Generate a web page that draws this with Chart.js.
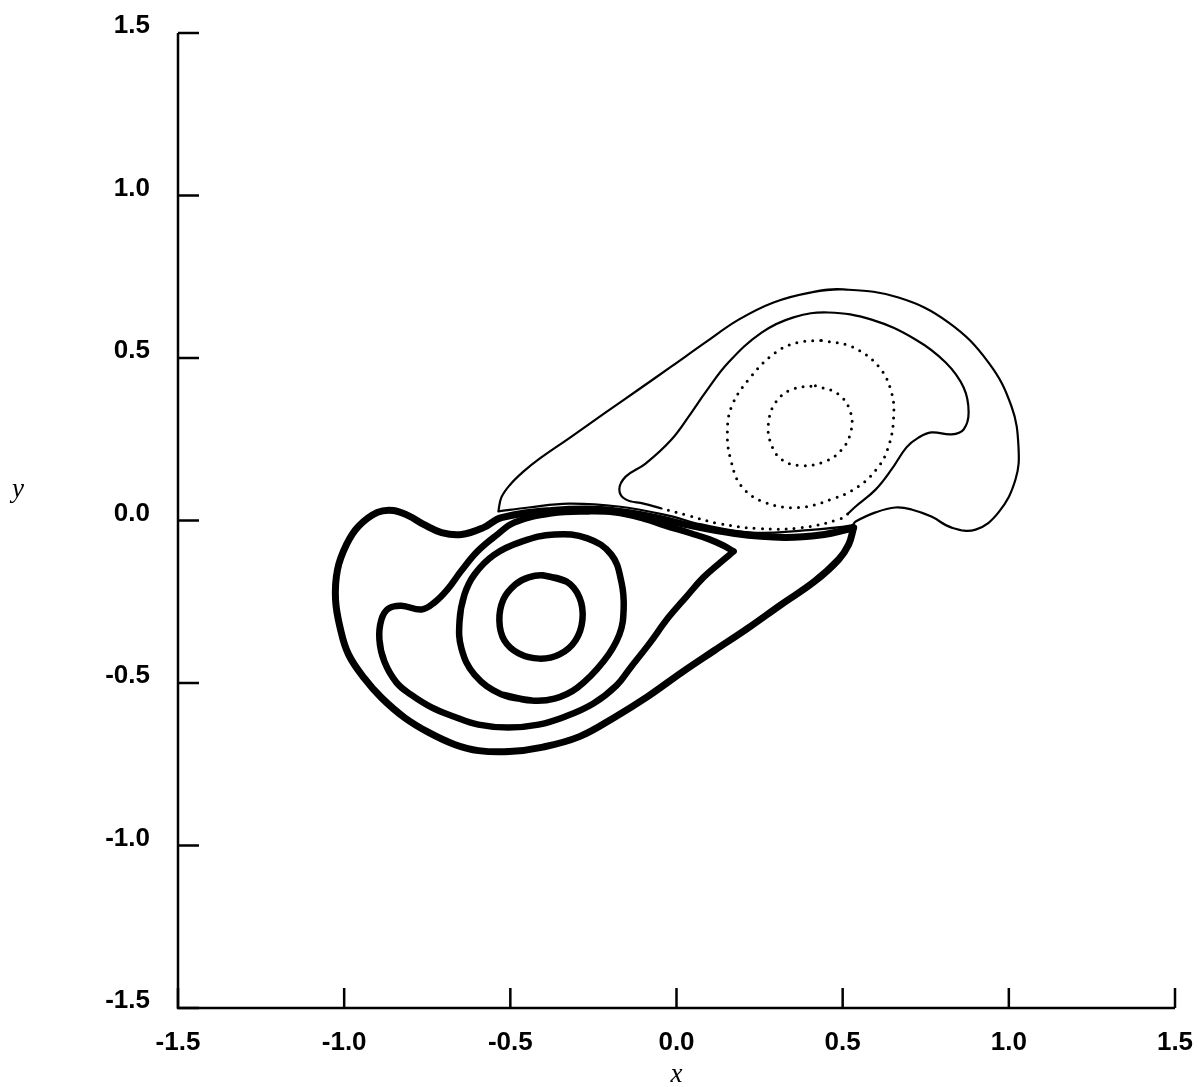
<!DOCTYPE html>
<html><head><meta charset="utf-8">
<script src="https://cdn.jsdelivr.net/npm/chart.js@4.4.0/dist/chart.umd.min.js"></script>
<style>html,body{margin:0;padding:0;background:#fff;}#wrap{width:1199px;height:1087px;}</style>
</head><body><div id="wrap"><canvas id="c" width="1199" height="1087"></canvas></div>
<script>
// ---- axis ticks ----
const xTicks = [-1.5, -1.0, -0.5, 0.0, 0.5, 1.0, 1.5];
const xTickLabels = ['-1.5', '-1.0', '-0.5', '0.0', '0.5', '1.0', '1.5'];
const yTicks = [-1.5, -1.0, -0.5, 0.0, 0.5, 1.0, 1.5];
const yTickLabels = ['-1.5', '-1.0', '-0.5', '0.0', '0.5', '1.0', '1.5'];
const xTitle = 'x';
const yTitle = 'y';

// ---- right vortex (thin / dotted) ----
const rightOuter = [[-0.536,0.028],[-0.527,0.071],[-0.500,0.111],[-0.460,0.151],[-0.415,0.188],[-0.316,0.258],[-0.214,0.332],[-0.114,0.403],[-0.015,0.474],[0.087,0.548],[0.187,0.618],[0.292,0.671],[0.406,0.702],[0.503,0.711],[0.668,0.686],[0.819,0.609],[0.939,0.486],[1.008,0.351],[1.029,0.228],[1.020,0.126],[0.969,0.025],[0.900,-0.028],[0.828,-0.022],[0.767,0.012],[0.707,0.034],[0.659,0.040],[0.599,0.025],[0.539,-0.003],[0.527,-0.015],[0.376,-0.031],[0.226,-0.037],[0.075,-0.012],[-0.024,0.015],[-0.175,0.043],[-0.325,0.052],[-0.445,0.040],[-0.536,0.028]];
const rightInnerSolid = [[-0.045,0.037],[-0.099,0.052],[-0.153,0.065],[-0.172,0.095],[-0.153,0.135],[-0.093,0.175],[-0.015,0.249],[0.045,0.332],[0.087,0.394],[0.156,0.486],[0.256,0.578],[0.352,0.625],[0.457,0.640],[0.587,0.618],[0.719,0.557],[0.810,0.486],[0.864,0.409],[0.879,0.332],[0.864,0.280],[0.828,0.265],[0.767,0.271],[0.728,0.255],[0.692,0.225],[0.647,0.157],[0.599,0.095],[0.539,0.043],[0.515,0.020]];
const rightInnerDotted = [[0.515,0.020],[0.488,0.003],[0.376,-0.022],[0.247,-0.025],[0.126,-0.009],[0.036,0.015],[-0.045,0.037]];
const rightRingOuter = [[0.436,0.554],[0.527,0.535],[0.608,0.474],[0.647,0.394],[0.653,0.311],[0.638,0.228],[0.608,0.166],[0.548,0.105],[0.466,0.065],[0.367,0.040],[0.268,0.055],[0.196,0.105],[0.163,0.188],[0.153,0.271],[0.166,0.351],[0.217,0.434],[0.298,0.517],[0.367,0.548],[0.436,0.554]];
const rightRingInner = [[0.418,0.415],[0.488,0.388],[0.524,0.332],[0.524,0.271],[0.497,0.218],[0.448,0.182],[0.376,0.169],[0.316,0.188],[0.283,0.240],[0.277,0.302],[0.298,0.363],[0.346,0.403],[0.418,0.415]];

// ---- left vortex (thick) ----
const leftOuter = [[0.533,-0.022],[0.518,-0.074],[0.488,-0.120],[0.415,-0.188],[0.316,-0.258],[0.214,-0.332],[0.114,-0.400],[0.015,-0.468],[-0.087,-0.542],[-0.187,-0.606],[-0.292,-0.665],[-0.406,-0.698],[-0.503,-0.711],[-0.596,-0.708],[-0.668,-0.689],[-0.746,-0.652],[-0.819,-0.606],[-0.888,-0.545],[-0.939,-0.486],[-0.987,-0.412],[-1.011,-0.335],[-1.026,-0.243],[-1.020,-0.151],[-0.993,-0.074],[-0.957,-0.018],[-0.900,0.025],[-0.852,0.031],[-0.807,0.015],[-0.761,-0.012],[-0.707,-0.037],[-0.647,-0.043],[-0.581,-0.022],[-0.527,0.009],[-0.376,0.031],[-0.226,0.034],[-0.075,0.012],[0.024,-0.012],[0.175,-0.040],[0.325,-0.052],[0.445,-0.043],[0.512,-0.028],[0.533,-0.022]];
const leftInner = [[0.172,-0.095],[0.132,-0.129],[0.081,-0.175],[0.030,-0.234],[-0.024,-0.298],[-0.084,-0.382],[-0.138,-0.452],[-0.181,-0.508],[-0.250,-0.563],[-0.334,-0.603],[-0.415,-0.628],[-0.506,-0.637],[-0.596,-0.628],[-0.671,-0.603],[-0.737,-0.575],[-0.800,-0.535],[-0.843,-0.498],[-0.879,-0.434],[-0.894,-0.366],[-0.888,-0.305],[-0.867,-0.271],[-0.828,-0.262],[-0.767,-0.274],[-0.728,-0.252],[-0.689,-0.212],[-0.647,-0.154],[-0.599,-0.095],[-0.539,-0.043],[-0.488,-0.006],[-0.376,0.022],[-0.265,0.028],[-0.187,0.025],[-0.099,0.006],[-0.036,-0.015],[0.045,-0.040],[0.099,-0.058],[0.141,-0.077],[0.172,-0.095]];
const leftRingOuter = [[-0.436,-0.554],[-0.527,-0.535],[-0.608,-0.474],[-0.647,-0.394],[-0.653,-0.311],[-0.638,-0.228],[-0.608,-0.166],[-0.548,-0.105],[-0.466,-0.065],[-0.367,-0.043],[-0.268,-0.055],[-0.196,-0.105],[-0.166,-0.188],[-0.159,-0.271],[-0.172,-0.351],[-0.220,-0.434],[-0.298,-0.514],[-0.367,-0.548],[-0.436,-0.554]];
const leftRingInner = [[-0.400,-0.169],[-0.331,-0.188],[-0.292,-0.237],[-0.283,-0.305],[-0.304,-0.369],[-0.352,-0.412],[-0.412,-0.425],[-0.475,-0.409],[-0.518,-0.369],[-0.533,-0.308],[-0.521,-0.243],[-0.485,-0.197],[-0.445,-0.175],[-0.400,-0.169]];

const pts = a => a.map(([x, y]) => ({x, y}));
// smoothRing: for closed solid rings, repeat the second point so the join has a smooth tangent
function curve(data, width, dotted, smoothRing) {
  const d = smoothRing ? data.concat([data[1]]) : data;
  return {
    data: pts(d), showLine: true, pointRadius: 0, pointHoverRadius: 0,
    borderColor: '#000', backgroundColor: '#000', borderWidth: width,
    tension: 0.4, fill: false, borderCapStyle: 'round', borderJoinStyle: 'round',
    borderDash: dotted ? [0, 8] : []
  };
}

const axesPlugin = {
  id: 'axesPlugin',
  afterDraw(chart) {
    const {ctx, chartArea: a, scales: {x, y}} = chart;
    ctx.save();
    ctx.strokeStyle = '#000';
    ctx.lineWidth = 2.5;
    ctx.beginPath();
    ctx.moveTo(a.left, a.top);
    ctx.lineTo(a.left, a.bottom);
    ctx.lineTo(a.right, a.bottom);
    ctx.stroke();
    ctx.beginPath();
    xTicks.forEach(v => { const p = x.getPixelForValue(v); ctx.moveTo(p, a.bottom); ctx.lineTo(p, a.bottom - 20); });
    yTicks.forEach(v => { const p = y.getPixelForValue(v); ctx.moveTo(a.left, p); ctx.lineTo(a.left + 21, p); });
    ctx.stroke();
    ctx.fillStyle = '#000';
    ctx.font = 'italic 27px "Liberation Serif", "DejaVu Serif", serif';
    ctx.textAlign = 'center';
    ctx.textBaseline = 'alphabetic';
    ctx.fillText(xTitle, x.getPixelForValue(0), 1082);
    ctx.fillText(yTitle, 18, 497);
    ctx.restore();
  }
};

const tickFont = {family: '"Liberation Sans", Arial, Helvetica, sans-serif', size: 26, weight: 'bold'};

new Chart(document.getElementById('c'), {
  type: 'scatter',
  data: {
    datasets: [
      curve(rightOuter, 2.2, false, false),
      curve(rightInnerSolid, 2.2, false, false),
      curve(rightInnerDotted, 3, true, false),
      curve(rightRingOuter, 3, true, false),
      curve(rightRingInner, 3, true, false),
      curve(leftOuter, 7, false, false),
      curve(leftInner, 6.5, false, false),
      curve(leftRingOuter, 6.5, false, true),
      curve(leftRingInner, 6.5, false, true)
    ]
  },
  options: {
    responsive: false, animation: false, devicePixelRatio: 1,
    layout: {padding: {top: 33, right: 24, left: 0, bottom: 0}},
    plugins: {legend: {display: false}, tooltip: {enabled: false}},
    scales: {
      x: {
        type: 'linear', min: -1.5, max: 1.5,
        afterBuildTicks: s => { s.ticks = xTicks.map(v => ({value: v})); },
        afterFit: s => { s.height = 79; s.paddingLeft = 0; s.paddingRight = 0; },
        grid: {display: false, drawTicks: false},
        border: {display: false},
        ticks: {
          callback: v => xTickLabels[xTicks.findIndex(t => Math.abs(t - v) < 1e-9)],
          font: tickFont, color: '#000', padding: 19, maxRotation: 0, autoSkip: false
        }
      },
      y: {
        type: 'linear', min: -1.5, max: 1.5,
        afterBuildTicks: s => { s.ticks = yTicks.map(v => ({value: v})); },
        afterFit: s => { s.width = 178; s.paddingTop = 0; s.paddingBottom = 0; },
        grid: {display: false, drawTicks: false},
        border: {display: false},
        ticks: {
          callback: v => yTickLabels[yTicks.findIndex(t => Math.abs(t - v) < 1e-9)],
          font: tickFont, color: '#000', padding: 28, labelOffset: -7, autoSkip: false
        }
      }
    }
  },
  plugins: [axesPlugin]
});
</script></body></html>
